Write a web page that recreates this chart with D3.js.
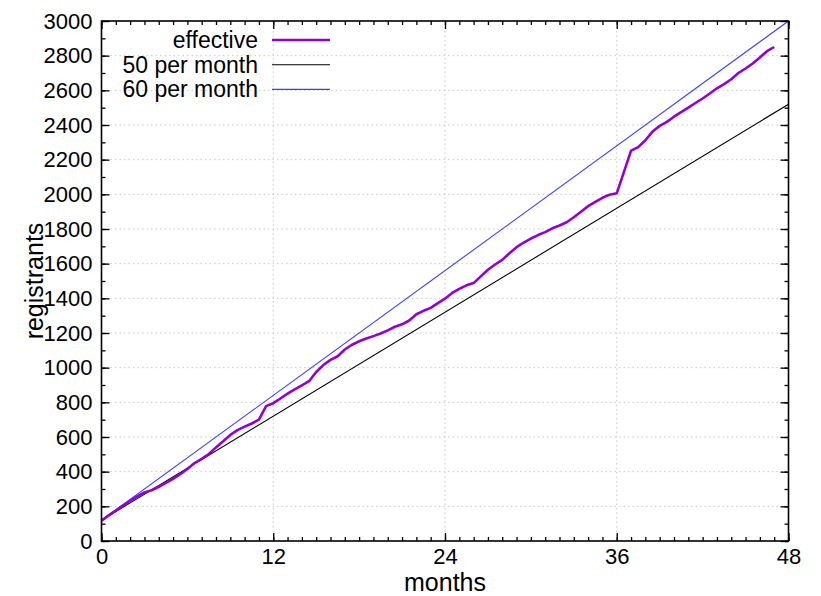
<!DOCTYPE html>
<html>
<head>
<meta charset="utf-8">
<script src="https://cdn.jsdelivr.net/npm/d3@7/dist/d3.min.js"></script>
<style>
  body { margin: 0; background: #fff; }
  text { font-family: "Liberation Sans", Arial, Helvetica, sans-serif; fill: #000; }
</style>
</head>
<body>
<svg id="chart" width="821" height="596"></svg>
<script>
var svg = d3.select("#chart");

// data (half-month steps)
var months = [0,0.5,1,1.5,2,2.5,3,3.5,4,4.5,5,5.5,6,6.5,7,7.5,8,8.5,9,9.5,10,10.5,11,11.5,12,
  12.5,13,13.5,14,14.5,15,15.5,16,16.5,17,17.5,18,18.5,19,19.5,20,20.5,21,21.5,22,22.5,23,23.5,24,
  24.5,25,25.5,26,26.5,27,27.5,28,28.5,29,29.5,30,30.5,31,31.5,32,32.5,33,33.5,34,34.5,35,35.5,36,
  37,37.5,38,38.5,39,39.5,40,40.5,41,41.5,42,42.5,43,43.5,44,44.5,45,45.5,46,46.5,47];
var effective = [117,148,175,205,232,258,280,293,313,335,358,385,415,450,474,502,540,575,612,640,660,678,700,778,795,
  822,850,875,898,922,975,1015,1045,1066,1105,1132,1152,1168,1182,1197,1215,1236,1250,1272,1308,1328,1345,1372,1398,
  1431,1455,1475,1488,1527,1565,1595,1622,1660,1695,1722,1745,1765,1782,1804,1820,1839,1868,1900,1932,1957,1980,1998,2006,
  2252,2272,2312,2362,2395,2418,2448,2474,2500,2527,2553,2582,2612,2636,2664,2700,2726,2755,2790,2826,2850];
var start = 120;
var rates = [50, 60];
var seriesNames = ["effective", "50 per month", "60 per month"];
var colors = ["#9400d3", "#000000", "#3d3dff"];
var xTicks = [0, 12, 24, 36, 48];
var yTicks = d3.range(0, 3001, 200);

var x = d3.scaleLinear().domain([0, 48]).range([101.5, 788.5]);
var y = d3.scaleLinear().domain([0, 3000]).range([541, 21]);

// grid
var grid = svg.append("g").attr("stroke", "#c8c8c8").attr("stroke-width", 1).attr("stroke-dasharray", "1.5,3");
grid.selectAll(".gx").data(xTicks.slice(1, -1)).enter().append("line")
  .attr("x1", d => x(d)).attr("x2", d => x(d)).attr("y1", y(0)).attr("y2", y(3000));
grid.selectAll(".gy").data(yTicks.slice(1, -1)).enter().append("line")
  .attr("y1", d => y(d)).attr("y2", d => y(d)).attr("x1", x(0)).attr("x2", x(48));

// ticks (gnuplot style, inward, mirrored)
function ticks(axis, tx, ty) {
  var g = svg.append("g").attr("transform", "translate(" + tx + "," + ty + ")").call(axis);
  g.select(".domain").remove();
  g.selectAll("line").attr("stroke", "#000").attr("stroke-width", 1.3);
  g.attr("font-family", null).attr("font-size", null);
  g.selectAll("text").style("font-size", "22px");
  return g;
}
var yMinor = d3.range(0, 3001, 100);
var xMinor = d3.range(0, 49, 1);
ticks(d3.axisLeft(y).tickValues(yMinor).tickSize(-4).tickFormat(""), x(0), 0);
ticks(d3.axisRight(y).tickValues(yMinor).tickSize(-4).tickFormat(""), x(48), 0);
ticks(d3.axisBottom(x).tickValues(xMinor).tickSize(-4).tickFormat(""), 0, y(0));
ticks(d3.axisTop(x).tickValues(xMinor).tickSize(-4).tickFormat(""), 0, y(3000));
ticks(d3.axisRight(y).tickValues(yTicks).tickSize(-8).tickFormat(""), x(48), 0);
ticks(d3.axisTop(x).tickValues(xTicks).tickSize(-8).tickFormat(""), 0, y(3000));
ticks(d3.axisLeft(y).tickValues(yTicks).tickSize(-8).tickPadding(9).tickFormat(d3.format("d")), x(0), 0);
ticks(d3.axisBottom(x).tickValues(xTicks).tickSize(-8).tickPadding(7).tickFormat(d3.format("d")), 0, y(0));

// lines
var line = d3.line().x(d => x(d[0])).y(d => y(d[1]));
rates.forEach(function(r, i) {
  svg.append("path")
    .datum([[0, start], [48, start + r * 48]])
    .attr("fill", "none")
    .attr("stroke", colors[i + 1])
    .attr("stroke-width", 1.1)
    .attr("d", line);
});
svg.append("path")
  .datum(months.map((m, i) => [m, effective[i]]))
  .attr("fill", "none")
  .attr("stroke", colors[0])
  .attr("stroke-width", 2.6)
  .attr("stroke-linejoin", "round")
  .attr("d", line);

// frame
svg.append("rect")
  .attr("x", x(0)).attr("y", y(3000))
  .attr("width", x(48) - x(0)).attr("height", y(0) - y(3000))
  .attr("fill", "none").attr("stroke", "#000").attr("stroke-width", 1.6);

// legend
var legend = svg.selectAll(".legend").data(seriesNames).enter().append("g")
  .attr("class", "legend")
  .attr("transform", (d, i) => "translate(0," + (40 + i * 24.7) + ")");
legend.append("text").attr("x", 258).attr("dy", "0.35em")
  .style("text-anchor", "end").style("font-size", "23px").text(d => d);
legend.append("line").attr("x1", 272).attr("x2", 330)
  .attr("stroke", (d, i) => colors[i])
  .attr("stroke-width", (d, i) => i == 0 ? 2.6 : 1.1);

// axis titles
svg.append("text").attr("x", (x(0) + x(48)) / 2).attr("y", 591)
  .style("text-anchor", "middle").style("font-size", "25px").text("months");
svg.append("text").attr("transform", "translate(43," + (y(0) + y(3000)) / 2 + ") rotate(-90)")
  .style("text-anchor", "middle").style("font-size", "25px").text("registrants");
</script>
</body>
</html>
